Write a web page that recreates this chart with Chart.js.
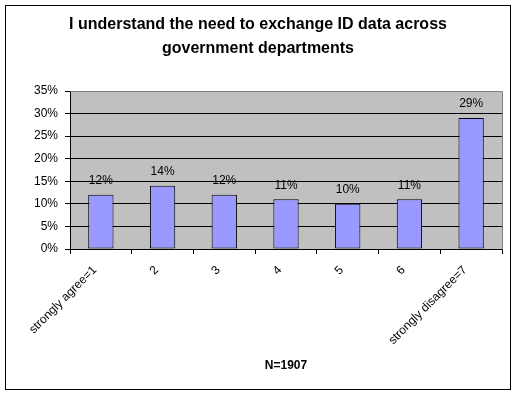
<!DOCTYPE html>
<html>
<head>
<meta charset="utf-8">
<script src="https://cdn.jsdelivr.net/npm/chart.js@4"></script>
<style>
  html, body { margin: 0; padding: 0; background: #fff; }
</style>
</head>
<body>
<canvas id="myChart" width="516" height="394"></canvas>
<script>
const categories = ['strongly agree=1', '2', '3', '4', '5', '6', 'strongly disagree=7'];
const percents = [12, 14, 12, 11, 10, 11, 29];
const yTicks = [0, 5, 10, 15, 20, 25, 30, 35];
const titleLines = ['I understand the need to exchange ID data across', 'government departments'];
const axisNote = 'N=1907';

const FONT = "'Liberation Sans', Arial, sans-serif";

// grey plot area, outer frame, grey top/right edges, value labels
const excelLook = {
  id: 'excelLook',
  beforeDraw(chart) {
    const { ctx, chartArea: a } = chart;
    ctx.save();
    ctx.fillStyle = '#c0c0c0';
    ctx.fillRect(a.left, a.top, a.right - a.left, a.bottom - a.top);
    ctx.restore();
  },
  afterDatasetsDraw(chart) {
    const { ctx } = chart;
    const meta = chart.getDatasetMeta(0);
    ctx.save();
    ctx.font = '12px ' + FONT;
    ctx.fillStyle = '#000';
    ctx.textAlign = 'center';
    ctx.textBaseline = 'middle';
    meta.data.forEach((bar, i) => {
      ctx.fillText(percents[i] + '%', bar.x, bar.y - 14);
    });
    ctx.restore();
  },
  afterDraw(chart) {
    const { ctx, chartArea: a } = chart;
    ctx.save();
    ctx.lineWidth = 1;
    ctx.strokeStyle = '#808080';
    ctx.beginPath();
    ctx.moveTo(Math.round(a.left) + 0.5, Math.round(a.top) + 0.5);
    ctx.lineTo(Math.round(a.right) + 0.5, Math.round(a.top) + 0.5);
    ctx.lineTo(Math.round(a.right) + 0.5, Math.round(a.bottom) + 0.5);
    ctx.stroke();
    ctx.strokeStyle = '#000';
    ctx.strokeRect(5.5, 5.5, 505, 384);
    ctx.restore();
  }
};

const myChart = new Chart(document.getElementById('myChart'), {
  type: 'bar',
  data: {
    labels: categories,
    datasets: [{
      data: percents,
      backgroundColor: '#9999ff',
      borderColor: '#000',
      borderWidth: 1,
      borderSkipped: false,
      barPercentage: 0.41,
      categoryPercentage: 1
    }]
  },
  options: {
    responsive: false,
    animation: false,
    devicePixelRatio: 1,
    layout: { padding: { left: 7, right: 7, top: 0, bottom: 10 } },
    plugins: {
      legend: { display: false },
      tooltip: { enabled: false },
      title: {
        display: true,
        text: titleLines,
        color: '#000',
        font: { family: FONT, size: 16, weight: 'bold', lineHeight: 1.5 },
        padding: { top: 13, bottom: 30 }
      }
    },
    scales: {
      x: {
        afterFit: (scale) => { scale.height = 135; },
        grid: {
          offset: true,
          drawOnChartArea: false,
          drawTicks: true,
          tickLength: 5,
          color: '#000'
        },
        border: { display: true, color: '#000' },
        ticks: {
          autoSkip: false,
          maxRotation: 45,
          minRotation: 45,
          padding: 9,
          labelOffset: -6,
          color: '#000',
          font: { family: FONT, size: 12 }
        },
        title: {
          display: true,
          text: axisNote,
          color: '#000',
          font: { family: FONT, size: 12, weight: 'bold' },
          padding: { top: 4, bottom: 11 }
        }
      },
      y: {
        min: 0,
        max: 35,
        afterFit: (scale) => { scale.width = 63; },
        afterBuildTicks: (scale) => { scale.ticks = yTicks.map(v => ({ value: v })); },
        grid: {
          color: (c) => (c.tick && c.tick.value === 35 ? '#808080' : '#000'),
          tickColor: '#000',
          tickLength: 5
        },
        border: { display: true, color: '#000' },
        ticks: {
          padding: 7,
          color: '#000',
          font: { family: FONT, size: 12 },
          callback: (v) => v + '%'
        }
      },
      // empty right-hand strip so the title centres on the frame
      spacer: {
        type: 'linear',
        position: 'right',
        display: true,
        afterFit: (scale) => { scale.width = 7; },
        grid: { display: false },
        border: { display: false },
        ticks: { display: false }
      }
    }
  },
  plugins: [excelLook]
});
</script>
</body>
</html>
